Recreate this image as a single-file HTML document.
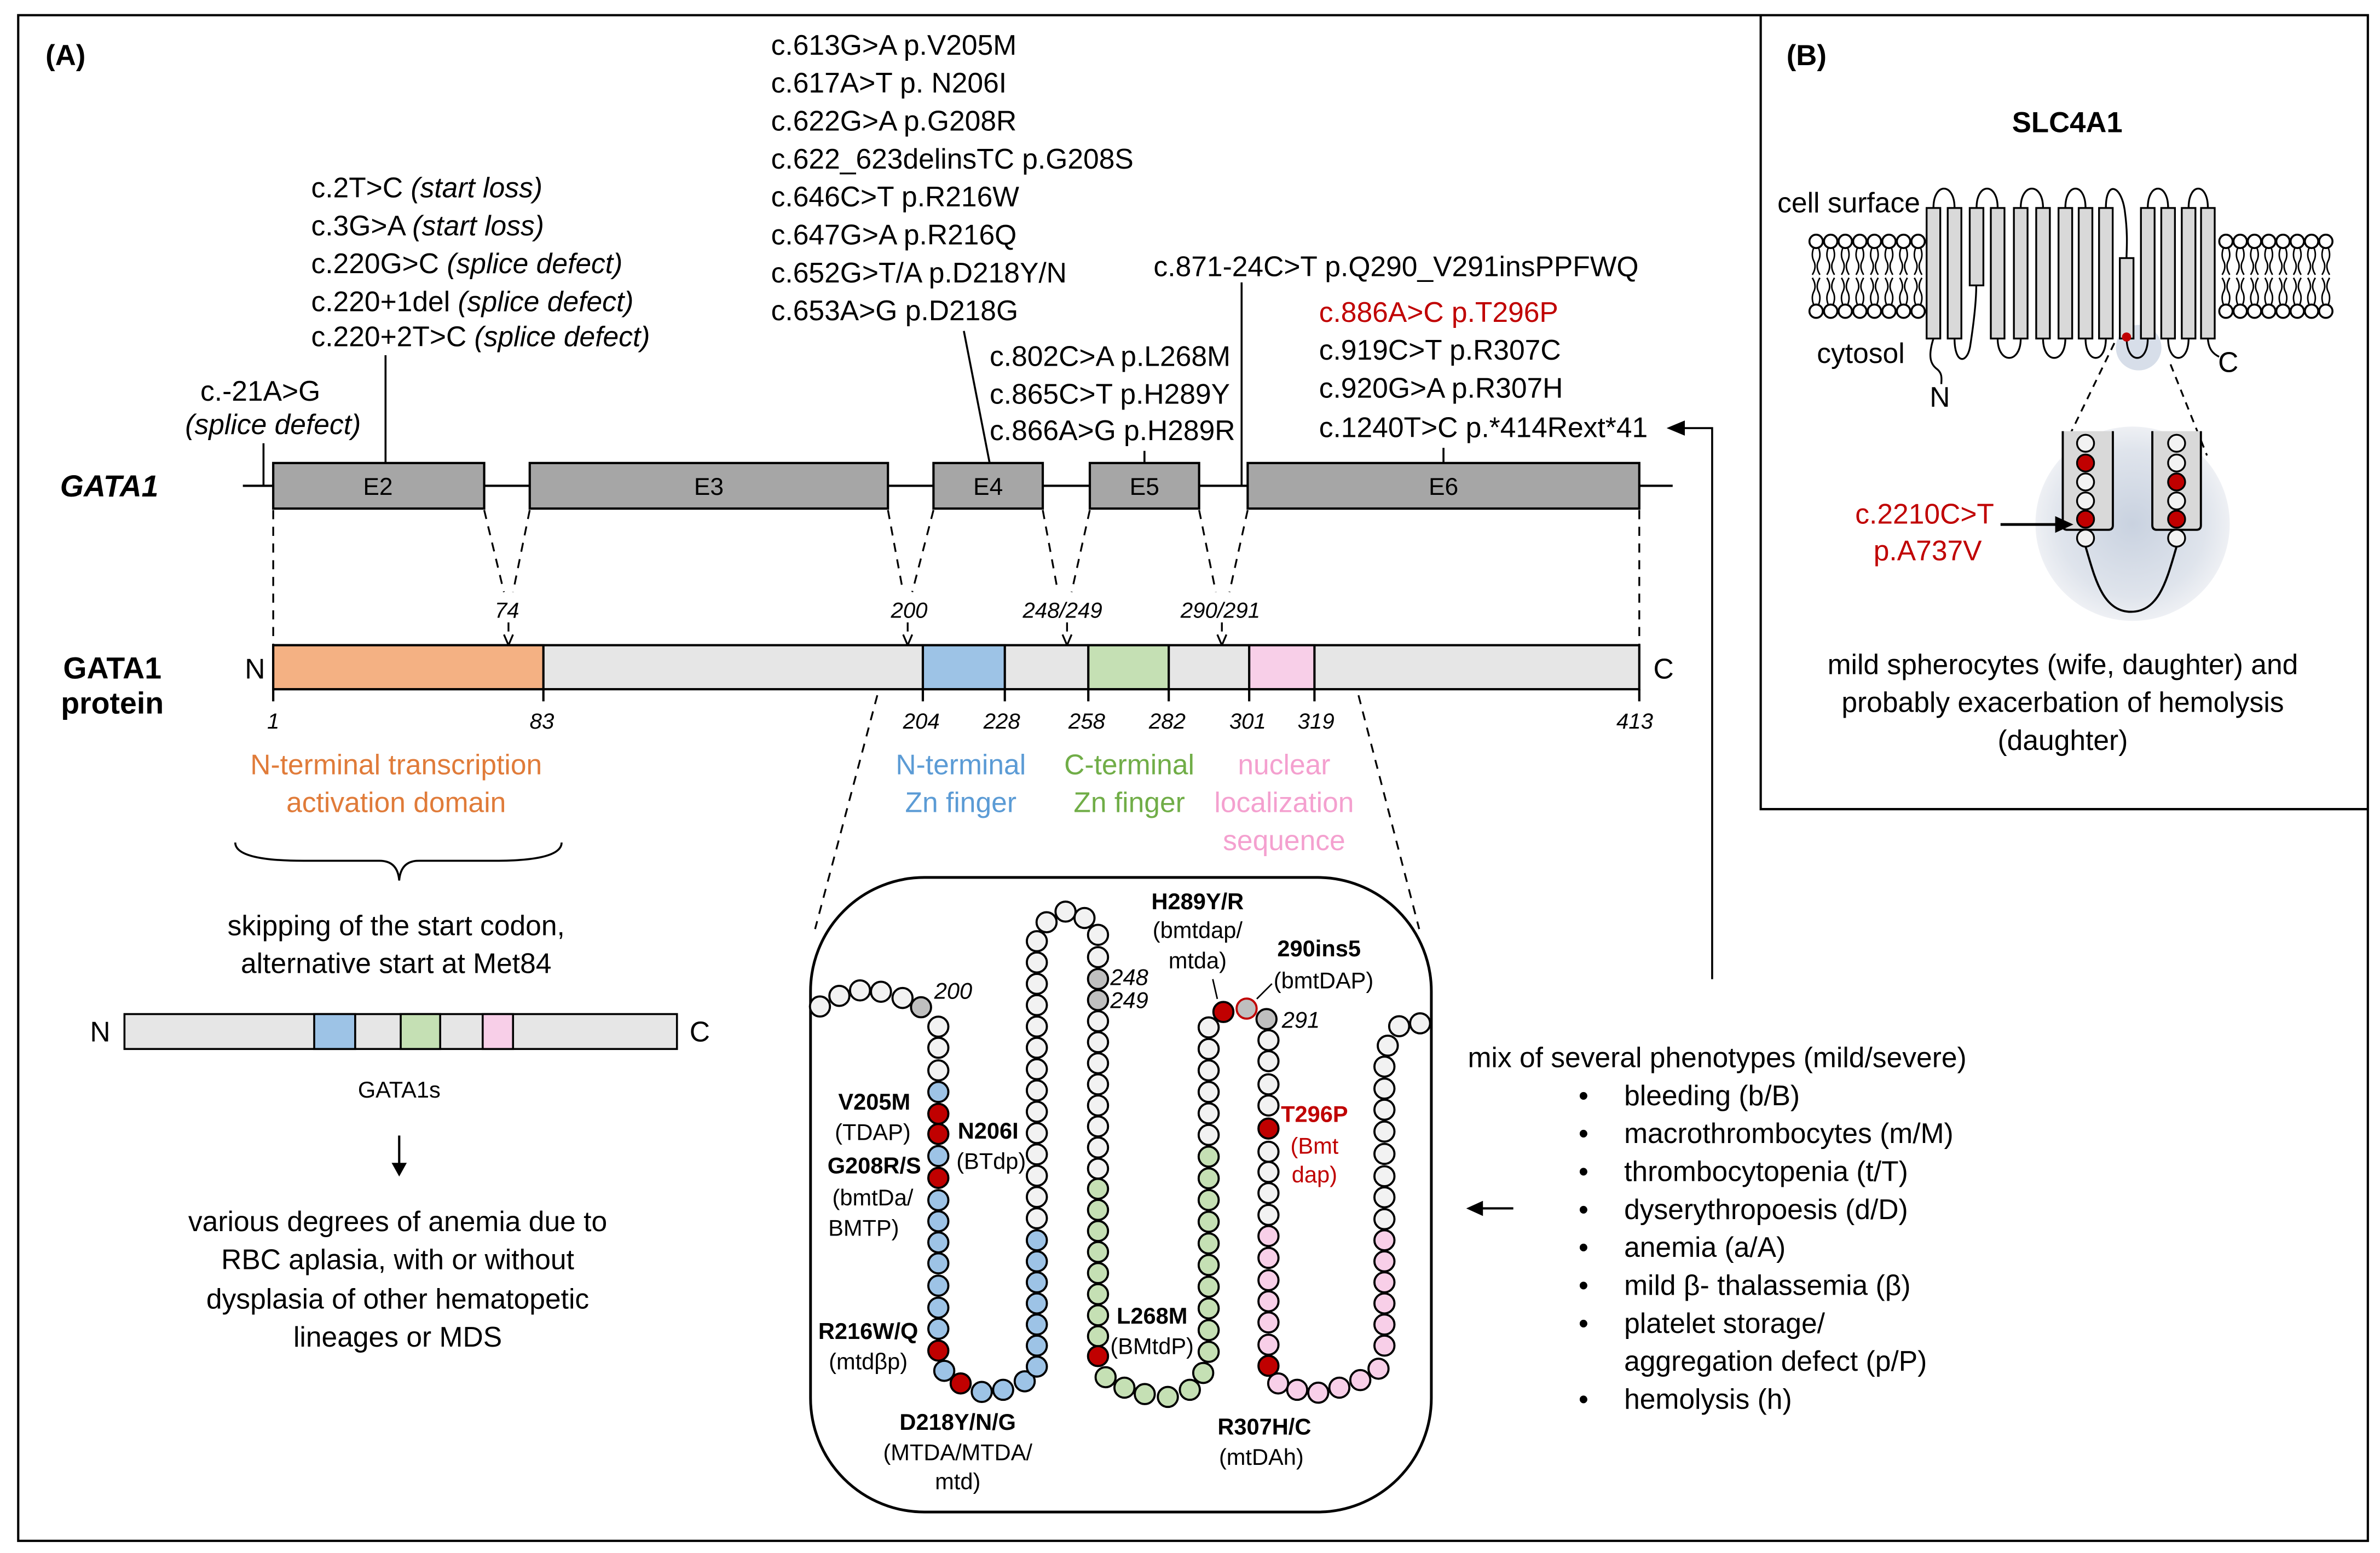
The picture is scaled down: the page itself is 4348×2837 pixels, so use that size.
<!DOCTYPE html>
<html><head><meta charset="utf-8"><style>
html,body{margin:0;padding:0;background:#fff}
svg{display:block}
text{font-family:"Liberation Sans",sans-serif;fill:#000}
.t{font-size:18.6px}
.it{font-style:italic}
.b{font-weight:bold}
</style></head><body>
<svg id="s" xmlns="http://www.w3.org/2000/svg" width="4348" height="2837" viewBox="0 0 1568 1023" preserveAspectRatio="none">
<rect x="0" y="0" width="1568" height="1023" fill="#fff"/>
<rect x="12" y="10" width="1548" height="1005" fill="none" stroke="#000" stroke-width="1.5"/>
<path d="M1160 10 V533 H1560" fill="none" stroke="#000" stroke-width="1.5"/>
<text x="30" y="43" class="b" font-size="19">(A)</text>
<text x="1177" y="43" class="b" font-size="19">(B)</text>

<g class="t">
<text x="508" y="36">c.613G&gt;A p.V205M</text>
<text x="508" y="61">c.617A&gt;T p. N206I</text>
<text x="508" y="86">c.622G&gt;A p.G208R</text>
<text x="508" y="111">c.622_623delinsTC p.G208S</text>
<text x="508" y="136">c.646C&gt;T p.R216W</text>
<text x="508" y="161">c.647G&gt;A p.R216Q</text>
<text x="508" y="186">c.652G&gt;T/A p.D218Y/N</text>
<text x="508" y="211">c.653A&gt;G p.D218G</text>
<text x="205" y="130">c.2T&gt;C <tspan class="it">(start loss)</tspan></text>
<text x="205" y="155">c.3G&gt;A <tspan class="it">(start loss)</tspan></text>
<text x="205" y="180">c.220G&gt;C <tspan class="it">(splice defect)</tspan></text>
<text x="205" y="205">c.220+1del <tspan class="it">(splice defect)</tspan></text>
<text x="205" y="228">c.220+2T&gt;C <tspan class="it">(splice defect)</tspan></text>
<text x="132" y="264">c.-21A&gt;G</text>
<text x="122" y="286" class="it">(splice defect)</text>
<text x="652" y="241">c.802C&gt;A p.L268M</text>
<text x="652" y="266">c.865C&gt;T p.H289Y</text>
<text x="652" y="290">c.866A&gt;G p.H289R</text>
<text x="760" y="182">c.871-24C&gt;T p.Q290_V291insPPFWQ</text>
<text x="869" y="212" style="fill:#c00000">c.886A&gt;C p.T296P</text>
<text x="869" y="237">c.919C&gt;T p.R307C</text>
<text x="869" y="262">c.920G&gt;A p.R307H</text>
<text x="869" y="288">c.1240T&gt;C p.*414Rext*41</text>
</g>
<g stroke="#000" stroke-width="1.3" fill="none">
<line x1="173.6" y1="292" x2="173.6" y2="320"/>
<line x1="254" y1="234" x2="254" y2="305"/>
<line x1="635" y1="218" x2="652" y2="305"/>
<line x1="754" y1="297" x2="754" y2="305"/>
<line x1="818" y1="186" x2="818" y2="320"/>
<line x1="951" y1="295" x2="951" y2="305"/>
<path d="M1128 645 V282 H1108"/>
</g>
<path d="M1098 282 L1110 277 L1110 287 Z" fill="#000"/>

<line x1="160" y1="320" x2="1102" y2="320" stroke="#000" stroke-width="1.5"/>
<g fill="#a6a6a6" stroke="#000" stroke-width="1.5">
<rect x="180" y="305" width="139" height="30"/>
<rect x="349" y="305" width="236" height="30"/>
<rect x="615" y="305" width="72" height="30"/>
<rect x="718" y="305" width="72" height="30"/>
<rect x="822" y="305" width="258" height="30"/>
</g>
<g text-anchor="middle" font-size="16">
<text x="249" y="326">E2</text><text x="467" y="326">E3</text><text x="651" y="326">E4</text><text x="754" y="326">E5</text><text x="951" y="326">E6</text>
</g>
<text x="72" y="327" class="b it" font-size="20" text-anchor="middle">GATA1</text>
<text x="74" y="447" class="b" font-size="20" text-anchor="middle">GATA1</text>
<text x="74" y="470" class="b" font-size="20" text-anchor="middle">protein</text>

<g stroke="#000" stroke-width="1.2" stroke-dasharray="6,5" fill="none">
<line x1="180" y1="336" x2="180" y2="425"/>
<line x1="319" y1="336" x2="332" y2="390"/><line x1="349" y1="336" x2="338" y2="390"/>
<line x1="585" y1="336" x2="595" y2="390"/><line x1="615" y1="336" x2="601" y2="390"/>
<line x1="687" y1="336" x2="697" y2="390"/><line x1="718" y1="336" x2="706" y2="390"/>
<line x1="790" y1="336" x2="801" y2="390"/><line x1="822" y1="336" x2="810" y2="390"/>
<line x1="1080" y1="336" x2="1080" y2="425"/>
<line x1="335" y1="410" x2="335" y2="420"/><line x1="598" y1="410" x2="598" y2="420"/>
<line x1="703" y1="410" x2="703" y2="420"/><line x1="805" y1="410" x2="805" y2="420"/>
</g>
<g stroke="#000" stroke-width="1.2" fill="none">
<path d="M332 418 L335 425 L338 418"/><path d="M595 418 L598 425 L601 418"/>
<path d="M700 418 L703 425 L706 418"/><path d="M802 418 L805 425 L808 418"/>
</g>
<g class="it" font-size="14.5" text-anchor="middle">
<text x="334" y="407">74</text><text x="599" y="407">200</text><text x="700" y="407">248/249</text><text x="804" y="407">290/291</text>
</g>

<rect x="180" y="425" width="900" height="29" fill="#e6e6e6" stroke="#000" stroke-width="1.5"/>
<g stroke="#000" stroke-width="1.5">
<rect x="180" y="425" width="178" height="29" fill="#f4b183"/>
<rect x="608" y="425" width="54" height="29" fill="#9dc3e6"/>
<rect x="717" y="425" width="53" height="29" fill="#c5e0b4"/>
<rect x="823" y="425" width="43" height="29" fill="#f8cfe8"/>
<line x1="180" y1="454" x2="180" y2="462"/><line x1="358" y1="454" x2="358" y2="462"/>
<line x1="608" y1="454" x2="608" y2="462"/><line x1="662" y1="454" x2="662" y2="462"/>
<line x1="717" y1="454" x2="717" y2="462"/><line x1="770" y1="454" x2="770" y2="462"/>
<line x1="823" y1="454" x2="823" y2="462"/><line x1="866" y1="454" x2="866" y2="462"/>
<line x1="1080" y1="454" x2="1080" y2="462"/>
</g>
<text x="168" y="447" class="t" text-anchor="middle">N</text>
<text x="1096" y="447" class="t" text-anchor="middle">C</text>
<g class="it" font-size="14.5" text-anchor="middle">
<text x="180" y="480">1</text><text x="357" y="480">83</text><text x="607" y="480">204</text><text x="660" y="480">228</text>
<text x="716" y="480">258</text><text x="769" y="480">282</text><text x="822" y="480">301</text><text x="867" y="480">319</text><text x="1077" y="480">413</text>
</g>
<g class="t" text-anchor="middle">
<text x="261" y="510" style="fill:#e07b39">N-terminal transcription</text>
<text x="261" y="535" style="fill:#e07b39">activation domain</text>
<text x="633" y="510" style="fill:#5b9bd5">N-terminal</text>
<text x="633" y="535" style="fill:#5b9bd5">Zn finger</text>
<text x="744" y="510" style="fill:#70ad47">C-terminal</text>
<text x="744" y="535" style="fill:#70ad47">Zn finger</text>
<text x="846" y="510" style="fill:#f4a0cf">nuclear</text>
<text x="846" y="535" style="fill:#f4a0cf">localization</text>
<text x="846" y="560" style="fill:#f4a0cf">sequence</text>
<text x="261" y="616">skipping of the start codon,</text>
<text x="261" y="641">alternative start at Met84</text>
<text x="263" y="723" font-size="15">GATA1s</text>
<text x="262" y="811">various degrees of anemia due to</text>
<text x="262" y="836">RBC aplasia, with or without</text>
<text x="262" y="862">dysplasia of other hematopetic</text>
<text x="262" y="887">lineages or MDS</text>
</g>
<path d="M155 555 Q155 567 200 567 L250 567 Q262 567 263 580 Q264 567 276 567 L326 567 Q370 567 370 555" fill="none" stroke="#000" stroke-width="1.3"/>
<rect x="82" y="668" width="364" height="23" fill="#e6e6e6" stroke="#000" stroke-width="1.3"/>
<g stroke="#000" stroke-width="1.3">
<rect x="207" y="668" width="27" height="23" fill="#9dc3e6"/>
<rect x="264" y="668" width="26" height="23" fill="#c5e0b4"/>
<rect x="318" y="668" width="20" height="23" fill="#f8cfe8"/>
</g>
<text x="66" y="686" class="t" text-anchor="middle">N</text>
<text x="461" y="686" class="t" text-anchor="middle">C</text>
<line x1="263" y1="748" x2="263" y2="768" stroke="#000" stroke-width="1.5"/>
<path d="M258 766 L263 775 L268 766 Z" fill="#000"/>

<g class="t">
<text x="967" y="703">mix of several phenotypes (mild/severe)</text>
<text x="1070" y="728">bleeding (b/B)</text>
<text x="1070" y="753">macrothrombocytes (m/M)</text>
<text x="1070" y="778">thrombocytopenia (t/T)</text>
<text x="1070" y="803">dyserythropoesis (d/D)</text>
<text x="1070" y="828">anemia (a/A)</text>
<text x="1070" y="853">mild β- thalassemia (β)</text>
<text x="1070" y="878">platelet storage/</text>
<text x="1070" y="903">aggregation defect (p/P)</text>
<text x="1070" y="928">hemolysis (h)</text>
<text x="1040" y="728">•</text><text x="1040" y="753">•</text><text x="1040" y="778">•</text><text x="1040" y="803">•</text>
<text x="1040" y="828">•</text><text x="1040" y="853">•</text><text x="1040" y="878">•</text><text x="1040" y="928">•</text>
</g>
<line x1="975" y1="796" x2="997" y2="796" stroke="#000" stroke-width="1.5"/>
<path d="M966 796 L977 791 L977 801 Z" fill="#000"/>

<g stroke="#000" stroke-width="1.2" stroke-dasharray="6,5" fill="none">
<line x1="578" y1="458" x2="537" y2="612"/>
<line x1="895" y1="458" x2="935" y2="612"/>
</g>
<rect x="534" y="578" width="409" height="418" rx="75" fill="#fff" stroke="#000" stroke-width="1.8"/>
<g id="beads"></g>
<g font-size="15" text-anchor="middle" dominant-baseline="middle">
<text x="576" y="727" class="b">V205M</text><text x="575" y="747">(TDAP)</text>
<text x="651" y="746" class="b">N206I</text><text x="653" y="766">(BTdp)</text>
<text x="576" y="769" class="b">G208R/S</text><text x="575" y="790">(bmtDa/</text><text x="569" y="810">BMTP)</text>
<text x="572" y="878" class="b">R216W/Q</text><text x="572" y="898">(mtdβp)</text>
<text x="631" y="938" class="b">D218Y/N/G</text><text x="631" y="958">(MTDA/MTDA/</text><text x="631" y="977">mtd)</text>
<text x="759" y="868" class="b">L268M</text><text x="759" y="888">(BMtdP)</text>
<text x="789" y="595" class="b">H289Y/R</text><text x="789" y="614">(bmtdap/</text><text x="789" y="634">mtda)</text>
<text x="869" y="626" class="b">290ins5</text><text x="872" y="647">(bmtDAP)</text>
<text x="857" y="673" class="it">291</text>
<text x="744" y="645" class="it">248</text><text x="744" y="660" class="it">249</text>
<text x="628" y="654" class="it">200</text>
<text x="866" y="735" class="b" style="fill:#c00000">T296P</text>
<text x="866" y="756" style="fill:#c00000">(Bmt</text><text x="866" y="775" style="fill:#c00000">dap)</text>
<text x="833" y="941" class="b">R307H/C</text><text x="831" y="961">(mtDAh)</text>
</g>
<g stroke="#000" stroke-width="1">
<line x1="799" y1="645" x2="802" y2="658"/>
<line x1="838" y1="648" x2="828" y2="658"/>
</g>

<text x="1362" y="87" class="b" font-size="19" text-anchor="middle">SLC4A1</text>
<text x="1171" y="140" class="t">cell surface</text>
<text x="1197" y="239" class="t">cytosol</text>
<text x="1278" y="268" class="t" text-anchor="middle">N</text>
<text x="1468" y="245" class="t" text-anchor="middle">C</text>
<circle cx="1409" cy="229" r="15" fill="#cdd6e4" opacity="0.8"/>
<g id="mem"></g>
<defs><radialGradient id="gl"><stop offset="0" stop-color="#c9d2e0"/><stop offset="0.75" stop-color="#dfe4ec"/><stop offset="1" stop-color="#eef0f4"/></radialGradient></defs>
<circle cx="1405" cy="345" r="64" fill="url(#gl)"/>
<g stroke="#000" stroke-width="1.2" stroke-dasharray="5,4" fill="none">
<line x1="1393" y1="226" x2="1359" y2="296"/>
<line x1="1430" y1="240" x2="1454" y2="300"/>
</g>
<g stroke="#000" stroke-width="1.4" fill="#d9d9d9">
<path d="M1359 284 V346 Q1359 349 1362 349 H1389 Q1392 349 1392 346 V284"/>
<path d="M1418 284 V346 Q1418 349 1421 349 H1447 Q1450 349 1450 346 V284"/>
</g>
<path d="M1374 360 C1380 380 1385 403 1404 403 C1423 403 1428 380 1434 360" fill="none" stroke="#000" stroke-width="1.4"/>
<g id="hb"></g>
<line x1="1318" y1="345.5" x2="1356" y2="345.5" stroke="#000" stroke-width="1.8"/>
<path d="M1366 345.5 L1354 340 L1354 351 Z" fill="#000"/>
<text x="1268" y="345" class="t" text-anchor="middle" style="fill:#c00000">c.2210C&gt;T</text>
<text x="1270" y="369" class="t" text-anchor="middle" style="fill:#c00000">p.A737V</text>
<g class="t" text-anchor="middle">
<text x="1359" y="444">mild spherocytes (wife, daughter) and</text>
<text x="1359" y="469">probably exacerbation of hemolysis</text>
<text x="1359" y="494">(daughter)</text>
</g>
</svg>
<script>
var NS="http://www.w3.org/2000/svg";
function el(p,n,a){var e=document.createElementNS(NS,n);for(var k in a)e.setAttribute(k,a[k]);p.appendChild(e);return e;}
var W="#f2f2f2",B="#9dc3e6",G="#c5e0b4",P="#f8cfe8",R="#c00000",Y="#bfbfbf";
var L=[];
function add(x,y,c,s){L.push([x,y,c,s]);}
[[62,335],[108,310],[157,297],[207,300],[258,315]].forEach(function(p){add(p[0],p[1],W)});
add(302,337,Y);
var c1=[[383,W],[433,W],[487,W],[538,B],[590,R],[638,R],[690,B],[742,R],[795,B],[845,B],[895,B],[945,B],[998,B],[1050,B],[1100,B],[1152,R]];
c1.forEach(function(p){add(343,p[0],p[1])});
add(357,1200,B);add(396,1230,R);add(446,1250,B);add(497,1245,B);add(548,1225,B);
var i,y;
for(y=1190;y>=885;y-=50)add(577,y,B);
for(y=838;y>=180;y-=50.6)add(577,y,W);
add(600,135,W);add(645,110,W);add(690,125,W);add(722,165,W);
add(722,218,W);add(722,270,Y);add(722,320,Y);
for(y=370;y<=720;y+=50)add(722,y,W);
for(y=768;y<=1120;y+=50)add(722,y,G);
add(722,1165,R);
[[740,1215],[785,1240],[833,1255],[888,1262],[940,1245],[972,1205]].forEach(function(p){add(p[0],p[1],G)});
for(y=1155;y>=690;y-=51.5)add(985,y,G);
for(y=640;y>=380;y-=51)add(985,y,W);
add(1020,348,R);add(1075,340,Y,R);add(1122,365,Y);
[415,465,520,570].forEach(function(y){add(1127,y,W)});
add(1127,625,R);
[680,728,778,830].forEach(function(y){add(1127,y,W)});
[880,932,985,1035,1085,1138].forEach(function(y){add(1127,y,P)});
add(1127,1188,R);
[[1150,1230],[1195,1245],[1245,1252],[1295,1240],[1345,1222],[1388,1195]].forEach(function(p){add(p[0],p[1],P)});
[1140,1090,1040,990,940,890].forEach(function(y){add(1402,y,P)});
[840,788,738,685,632,580,530,478].forEach(function(y){add(1402,y,W)});
add(1410,428,W);add(1437,382,W);add(1487,375,W);
var g=document.getElementById("beads");
L.forEach(function(b){el(g,"circle",{cx:(523+b[0]*0.2775).toFixed(1),cy:(570+b[1]*0.2775).toFixed(1),r:6.6,fill:b[2],stroke:b[3]||"#000","stroke-width":1.4});});
var m=document.getElementById("mem");
function lip(x){
 el(m,"path",{d:"M"+(x-1.5)+" 163 q-2 5 0 9 q2 4 -1 9 M"+(x+1.5)+" 163 q2 5 0 9 q-2 4 1 9",fill:"none",stroke:"#000","stroke-width":1});
 el(m,"path",{d:"M"+(x-1.5)+" 201 q-2 -5 0 -9 q2 -4 -1 -9 M"+(x+1.5)+" 201 q2 -5 0 -9 q-2 -4 1 -9",fill:"none",stroke:"#000","stroke-width":1});
 el(m,"circle",{cx:x,cy:159,r:4.4,fill:"#fff",stroke:"#000","stroke-width":1.3});
 el(m,"circle",{cx:x,cy:205,r:4.4,fill:"#fff",stroke:"#000","stroke-width":1.3});
}
for(i=0;i<8;i++){lip(1196.5+i*9.6);lip(1466.5+i*9.4);}
var hx=[1273.8,1287.7,1302.2,1316.1,1331.3,1346,1360.7,1374,1387.4,1401.1,1415,1428.4,1441.9,1454.6];
var ln={fill:"none",stroke:"#000","stroke-width":1.2};
function loopT(a,b){el(m,"path",Object.assign({d:"M"+hx[a]+" 137 C"+hx[a]+" 120 "+hx[b]+" 120 "+hx[b]+" 137"},ln));}
function loopB(a,b){el(m,"path",Object.assign({d:"M"+hx[a]+" 223 C"+hx[a]+" 240 "+hx[b]+" 240 "+hx[b]+" 223"},ln));}
loopT(0,1);loopT(2,3);loopT(4,5);loopT(6,7);loopT(10,11);loopT(12,13);
el(m,"path",Object.assign({d:"M"+hx[8]+" 137 C"+hx[8]+" 118 1398 122 1400 140 C1402 155 1401 165 1401 170"},ln));
loopB(3,4);loopB(5,6);loopB(7,8);loopB(9,10);loopB(11,12);
el(m,"path",Object.assign({d:"M1287.7 223 C1287.7 240 1296 240 1298 228 C1300 215 1302 200 1302 188"},ln));
el(m,"path",Object.assign({d:"M1273.8 223 C1270 235 1272 240 1276 243 C1280 246 1279 250 1279 253"},ln));
el(m,"path",Object.assign({d:"M1454.6 223 C1455 230 1458 233 1462 235"},ln));
hx.forEach(function(x,k){var t=137,bt=223;if(k==2)bt=188;if(k==9)t=170;
 el(m,"rect",{x:(x-4.5).toFixed(1),y:t,width:9,height:bt-t,fill:"#d9d9d9",stroke:"#000","stroke-width":1.2});});
el(m,"circle",{cx:1401,cy:222,r:3,fill:"#c00000"});
var hb=document.getElementById("hb");
var lc=[W,R,W,W,R,W],rc=[W,W,R,W,R,W],ly=[292,305,317.5,330,342,354.5];
for(i=0;i<6;i++){el(hb,"circle",{cx:1374,cy:ly[i],r:5.6,fill:lc[i],stroke:"#000","stroke-width":1.2});
el(hb,"circle",{cx:1434,cy:ly[i],r:5.6,fill:rc[i],stroke:"#000","stroke-width":1.2});}
</script>
</body></html>
